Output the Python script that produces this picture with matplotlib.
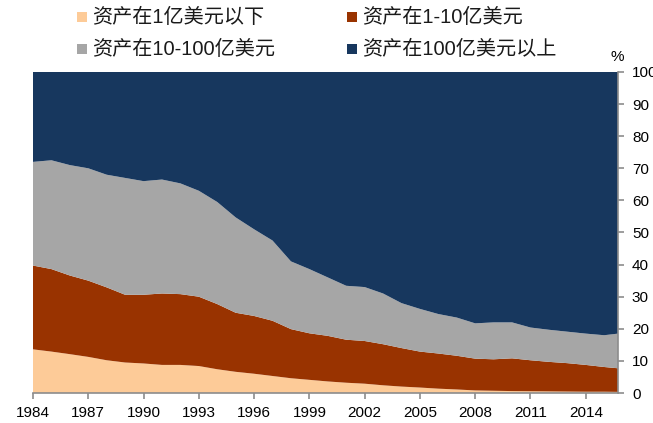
import matplotlib
matplotlib.use("Agg")
import matplotlib.pyplot as plt
from matplotlib.patches import Rectangle

plt.rcParams['font.family'] = ['Liberation Sans', 'Noto Sans CJK SC', 'DejaVu Sans']

years = [1984, 1985, 1986, 1987, 1988, 1989, 1990, 1991, 1992, 1993, 1994, 1995,
         1996, 1997, 1998, 1999, 2000, 2001, 2002, 2003, 2004, 2005, 2006, 2007,
         2008, 2009, 2010, 2011, 2012, 2013, 2014, 2015, 2015.75]

small = [13.6, 12.9, 12.1, 11.25, 10.2, 9.5, 9.2, 8.75, 8.75, 8.4, 7.4, 6.6,
         6.0, 5.3, 4.6, 4.1, 3.6, 3.2, 2.9, 2.4, 2.0, 1.7, 1.35, 1.1,
         0.8, 0.7, 0.6, 0.55, 0.5, 0.45, 0.4, 0.4, 0.35]
mid = [26.1, 25.7, 24.5, 23.75, 22.7, 21.1, 21.4, 22.25, 22.05, 21.6, 20.3, 18.4,
       18.0, 17.2, 15.3, 14.5, 14.2, 13.4, 13.3, 12.8, 12.0, 11.2, 10.95, 10.5,
       9.9, 9.8, 10.2, 9.65, 9.2, 8.85, 8.35, 7.7, 7.35]
large = [32.3, 33.9, 34.4, 35.0, 35.1, 36.4, 35.4, 35.5, 34.5, 33.0, 31.8, 29.7,
         27.0, 25.0, 21.1, 20.0, 18.2, 16.8, 16.8, 15.8, 14.0, 13.3, 12.3, 11.9,
         11.0, 11.5, 11.2, 10.2, 10.0, 9.8, 9.75, 9.9, 10.8]
xlarge = [28.0, 27.5, 29.0, 30.0, 32.0, 33.0, 34.0, 33.5, 34.7, 37.0, 40.5, 45.3,
          49.0, 52.5, 59.0, 61.4, 64.0, 66.6, 67.0, 69.0, 72.0, 73.8, 75.4, 76.5,
          78.3, 78.0, 78.0, 79.6, 80.3, 80.9, 81.5, 82.0, 81.5]

labels = ['资产在1亿美元以下', '资产在1-10亿美元', '资产在10-100亿美元', '资产在100亿美元以上']
colors = ['#FDCB98', '#993300', '#A6A6A6', '#17375E']
xtick_labels = ['1984', '1987', '1990', '1993', '1996', '1999', '2002', '2005', '2008', '2011', '2014']
yticks = list(range(0, 101, 10))

W, H = 653, 423
fig = plt.figure(figsize=(W / 100, H / 100), dpi=100)
ax = fig.add_axes([33 / W, (H - 393) / H, (618 - 33) / W, (393 - 72) / H])

ax.stackplot(years, small, mid, large, xlarge, colors=colors, linewidth=0)

ax.set_xlim(years[0], years[-1])
ax.set_ylim(0, 100)

ax.set_xticks([int(t) for t in xtick_labels])
ax.set_xticklabels(xtick_labels, fontsize=11)
ax.yaxis.tick_right()
ax.set_yticks(yticks)
ax.set_yticklabels([str(v) for v in yticks], fontsize=11)

for s in ['top', 'left']:
    ax.spines[s].set_visible(False)
for s in ['bottom', 'right']:
    ax.spines[s].set_color('#8C8C8C')
    ax.spines[s].set_linewidth(1.2)
ax.tick_params(axis='both', colors='#8C8C8C', labelcolor='black', length=4, width=1.2, direction='out')
ax.tick_params(axis='y', pad=6)
ax.tick_params(axis='x', pad=5)

fig.text(617 / W, 1 - 57 / H, '%', fontsize=11, ha='center', va='center')

# legend laid out row-wise as in the reference
legend_pos = [(77, 17), (347, 17), (77, 49), (347, 49)]
for (px, py), lab, col in zip(legend_pos, labels, colors):
    fig.patches.append(Rectangle((px / W, 1 - (py + 5) / H), 10 / W, 10 / H,
                                 transform=fig.transFigure, facecolor=col,
                                 edgecolor='none'))
    fig.text((px + 15) / W, 1 - py / H, lab, fontsize=14.5, ha='left', va='center',
             color='#1a1a1a')

fig.savefig('out.png', dpi=100)
